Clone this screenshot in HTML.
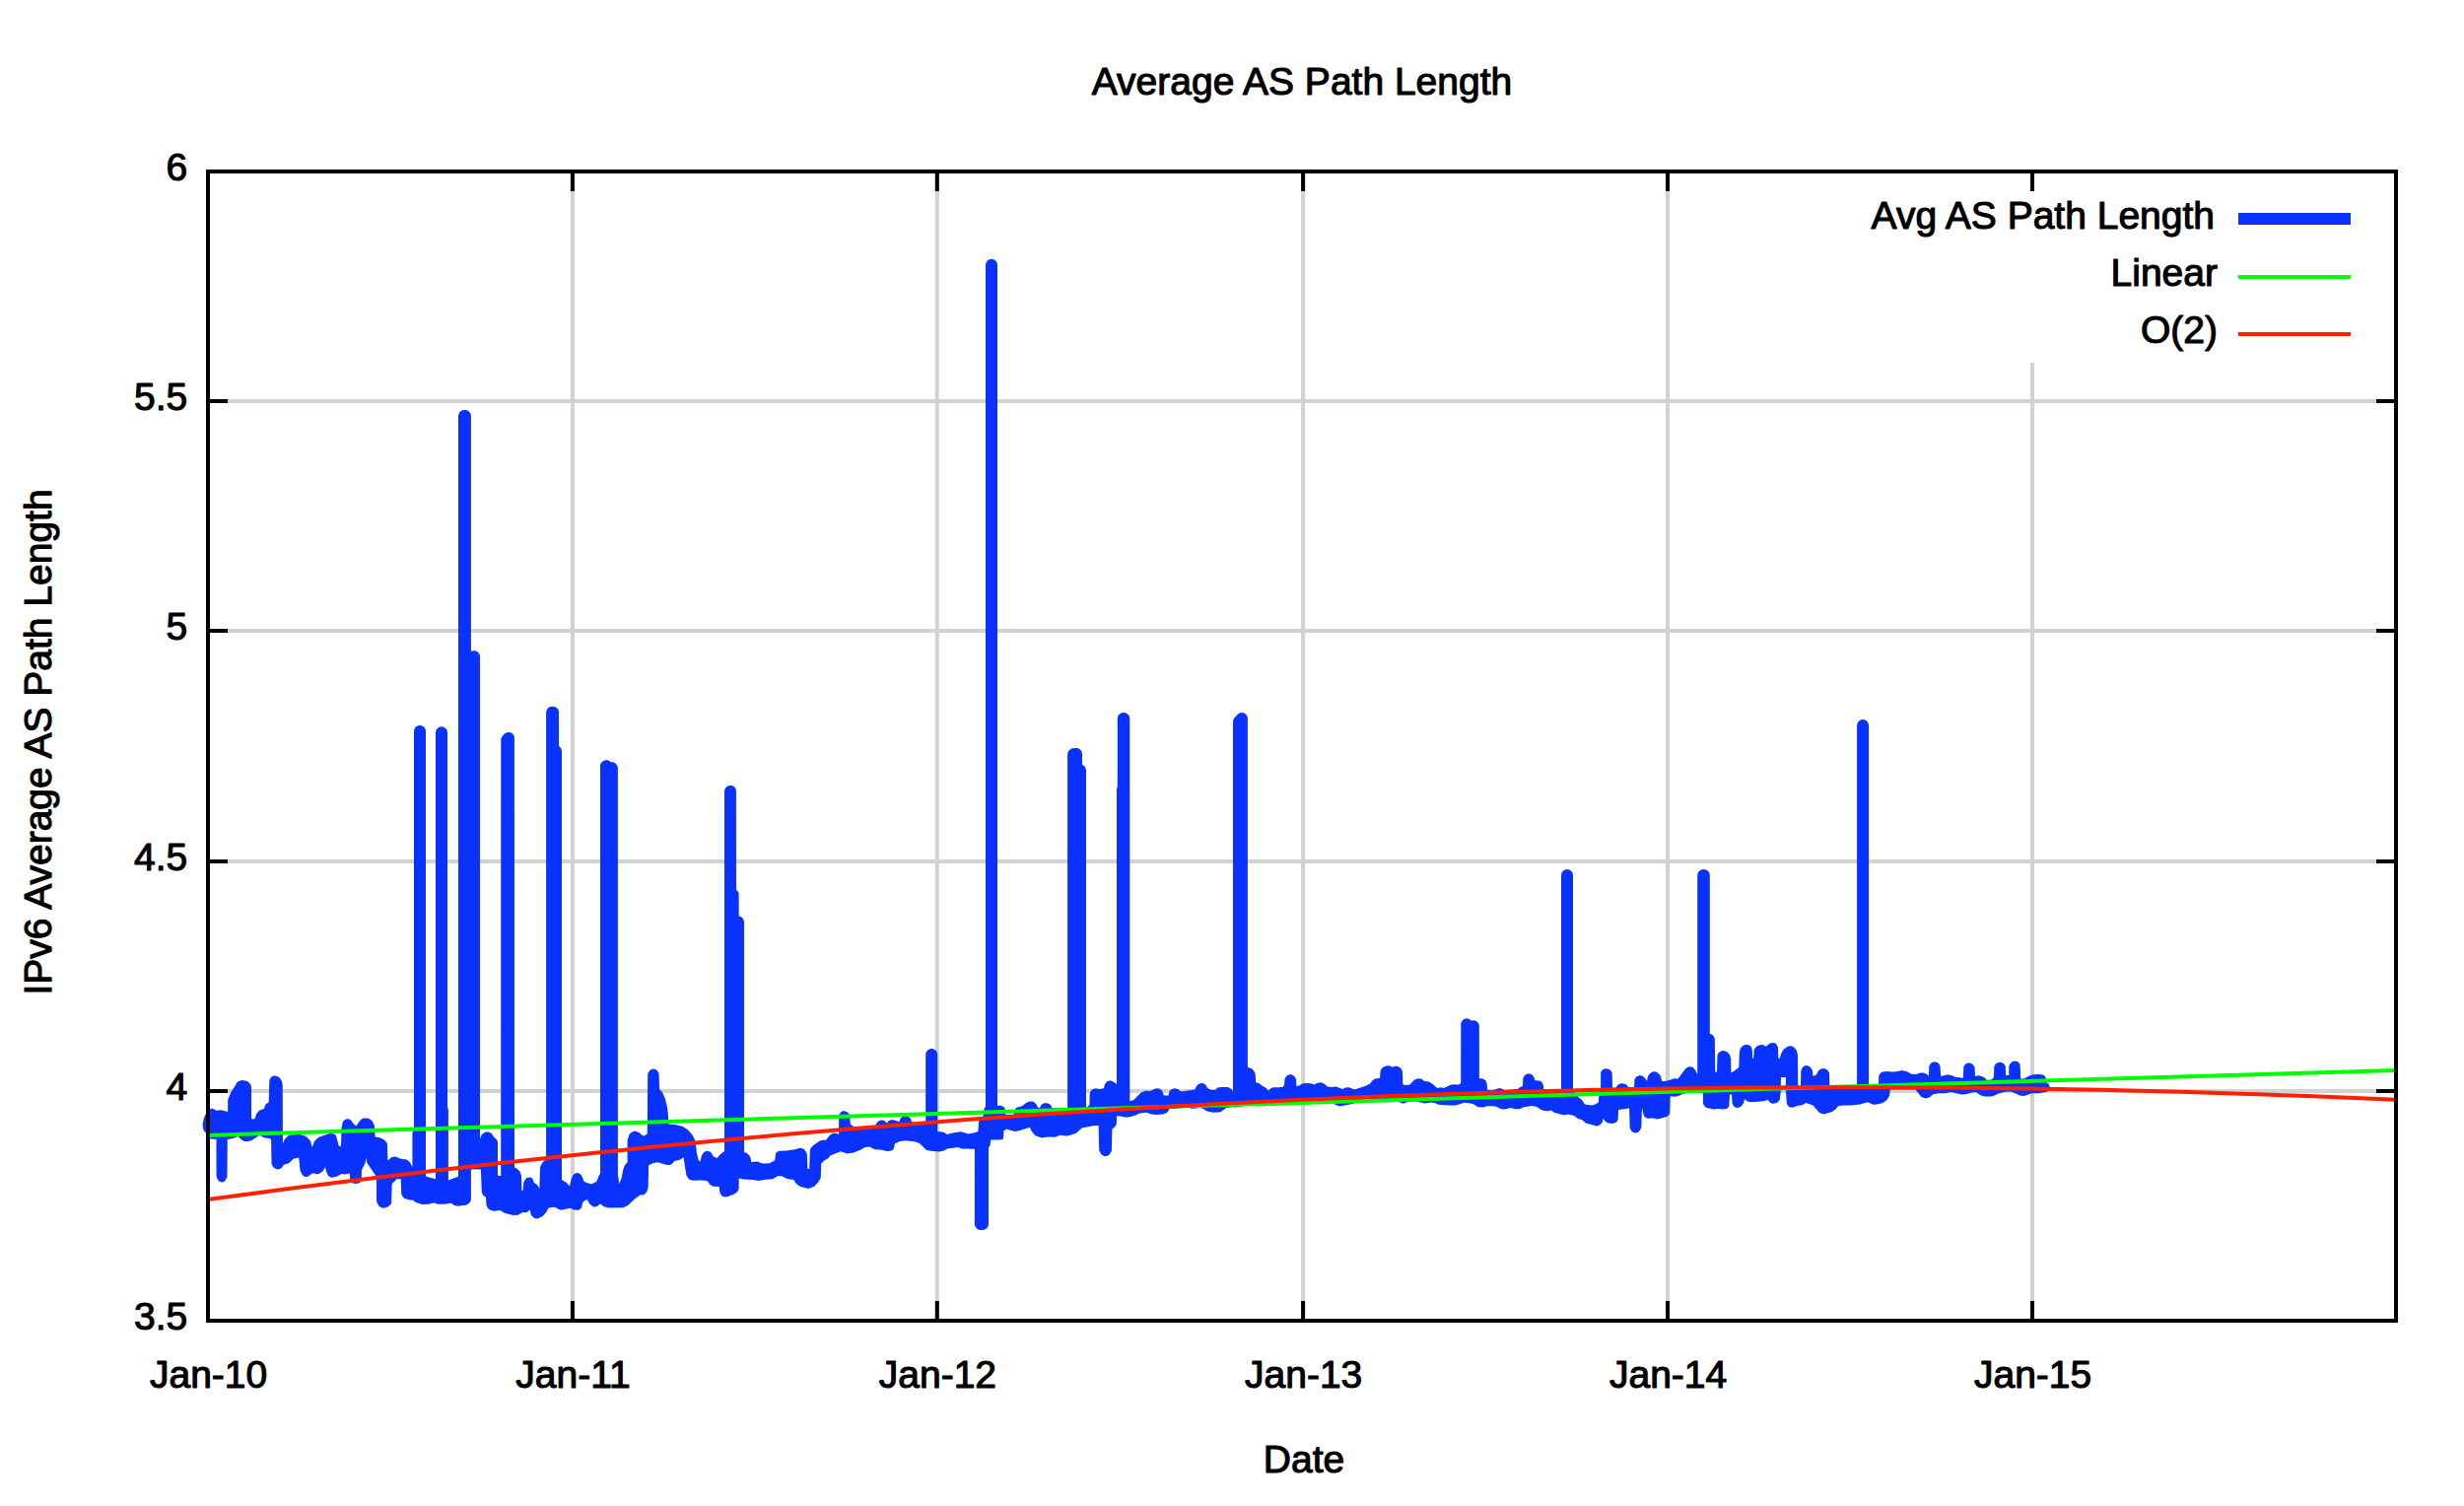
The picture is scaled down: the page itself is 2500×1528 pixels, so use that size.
<!DOCTYPE html><html><head><meta charset="utf-8"><title>Average AS Path Length</title>
<style>html,body{margin:0;padding:0;background:#fff}svg{display:block}text{font-family:"Liberation Sans",sans-serif;font-size:39px;fill:#000;stroke:#000;stroke-width:1.1px;stroke-linejoin:round}</style></head><body>
<svg width="2500" height="1528" viewBox="0 0 2500 1528">
<rect width="2500" height="1528" fill="#fff"/>
<path d="M580.9 174V1340M950.8 174V1340M1322.1 174V1340M1692.0 174V1340M2062.0 368V1340M211 1107.0H2431M211 874.0H2431M211 640.0H2431M211 407.0H2431" stroke="#d2d2d2" stroke-width="4" fill="none"/>
<path d="M477.4 1218.8L477.9 1216.5L477.9 1186.5L487.9 1186.5L488.8 1209.7L490.4 1213.0L493.0 1214.7L493.5 1222.3L494.0 1224.0L495.6 1226.6L497.8 1227.9L501.5 1228.7L507.6 1228.1L511.9 1230.8L520.5 1233.0L525.6 1232.7L530.3 1229.9L534.0 1230.2L535.4 1229.6L537.6 1227.5L538.8 1232.6L539.6 1233.8L542.3 1236.0L545.1 1236.5L546.7 1236.1L550.9 1233.7L554.1 1230.1L556.7 1225.6L561.5 1224.8L564.0 1225.3L566.3 1226.8L569.6 1227.7L578.5 1225.7L582.2 1227.4L585.6 1227.7L587.7 1227.4L589.4 1226.1L590.2 1224.8L591.4 1219.6L595.6 1217.1L598.1 1221.3L601.2 1223.9L602.5 1224.4L605.3 1224.2L609.1 1221.4L612.7 1224.2L617.6 1225.6L632.3 1225.3L637.1 1223.1L643.4 1217.0L649.8 1212.3L652.1 1212.4L653.5 1211.9L656.3 1209.3L657.7 1204.8L658.1 1182.2L662.5 1180.3L667.2 1179.2L676.8 1182.1L678.9 1182.2L681.8 1180.9L684.3 1177.9L690.4 1176.6L693.5 1174.3L696.4 1192.4L698.6 1196.1L699.9 1197.0L703.4 1197.7L710.1 1197.5L717.3 1198.1L720.6 1201.9L723.1 1203.7L729.5 1204.0L730.5 1210.6L732.7 1213.4L734.1 1214.2L738.4 1214.3L741.0 1212.8L743.3 1212.4L747.9 1209.5L749.6 1206.4L749.7 1195.5L754.4 1196.6L763.6 1196.9L769.9 1198.0L777.1 1196.7L784.1 1196.2L788.8 1193.2L793.1 1193.2L799.2 1196.2L805.3 1196.9L808.1 1201.3L812.1 1203.9L820.3 1205.9L826.3 1203.8L830.6 1199.0L832.8 1194.7L833.2 1180.4L836.5 1177.3L839.7 1175.8L842.8 1172.3L853.0 1168.2L859.5 1170.5L866.0 1169.4L873.4 1166.5L877.6 1163.9L882.3 1163.6L887.5 1166.3L893.5 1166.4L900.0 1168.1L903.8 1167.7L905.7 1166.8L906.7 1165.7L908.1 1160.2L913.3 1157.9L918.7 1157.2L928.0 1158.3L932.9 1160.1L940.2 1166.9L944.0 1167.8L953.2 1168.4L957.5 1167.5L961.2 1165.4L972.0 1164.1L975.5 1165.4L988.9 1165.7L988.9 1242.1L989.4 1244.4L991.6 1247.1L993.7 1248.0L997.0 1248.1L999.3 1247.6L1001.2 1246.3L1002.5 1244.4L1003.0 1242.1L1003.0 1164.4L1004.6 1162.3L1005.2 1156.6L1014.2 1156.5L1017.6 1156.0L1018.2 1152.7L1018.4 1147.4L1021.1 1145.6L1029.6 1147.9L1034.8 1146.9L1044.9 1143.7L1046.8 1148.0L1050.5 1152.2L1056.9 1154.6L1063.6 1153.5L1070.0 1153.8L1076.1 1151.7L1081.4 1152.5L1083.0 1152.4L1087.4 1151.3L1092.4 1149.4L1094.2 1147.5L1096.2 1146.1L1097.4 1144.5L1110.3 1141.9L1114.6 1142.1L1115.2 1167.2L1117.5 1171.4L1120.2 1172.9L1121.9 1173.2L1123.6 1172.8L1125.7 1171.5L1127.9 1167.7L1128.4 1145.6L1131.0 1143.6L1132.7 1140.9L1133.3 1132.1L1142.8 1133.8L1147.4 1133.1L1153.0 1131.2L1156.2 1129.4L1163.4 1128.8L1168.0 1130.6L1173.5 1131.0L1179.8 1130.6L1184.0 1128.9L1186.8 1125.1L1195.5 1124.5L1203.7 1123.3L1210.0 1125.0L1217.5 1123.9L1221.0 1124.9L1224.7 1127.5L1231.2 1128.7L1236.8 1128.6L1238.4 1128.2L1244.2 1123.9L1250.1 1123.3L1254.0 1123.6L1258.2 1122.8L1262.5 1121.4L1280.9 1120.5L1281.5 1121.1L1281.9 1122.2L1283.1 1122.4L1283.7 1121.7L1284.7 1121.7L1295.0 1121.3L1298.2 1119.6L1351.5 1117.8L1354.0 1120.6L1359.1 1122.6L1373.5 1119.7L1374.8 1118.9L1376.2 1117.2L1399.8 1116.3L1400.5 1116.9L1400.5 1117.8L1402.8 1118.2L1419.5 1117.9L1422.5 1119.5L1424.7 1119.6L1428.2 1118.0L1435.5 1117.3L1445.7 1119.6L1451.6 1118.6L1456.3 1119.2L1459.2 1120.7L1471.2 1121.6L1477.1 1121.5L1485.8 1118.8L1490.7 1119.2L1495.2 1120.3L1498.2 1122.4L1500.3 1123.3L1505.2 1123.4L1508.9 1122.2L1513.9 1122.2L1518.6 1122.8L1521.1 1124.6L1524.8 1125.6L1528.0 1125.3L1532.1 1124.1L1537.5 1125.3L1541.8 1125.2L1545.5 1123.4L1554.1 1122.0L1558.8 1122.8L1562.9 1125.4L1566.3 1127.0L1571.2 1127.3L1573.6 1126.5L1577.3 1128.9L1585.0 1131.1L1586.8 1131.3L1591.0 1130.8L1595.6 1131.4L1598.1 1132.6L1600.9 1135.1L1605.4 1136.3L1608.8 1139.4L1619.9 1142.5L1621.3 1142.3L1623.1 1141.5L1625.1 1139.6L1625.9 1138.3L1626.4 1135.1L1628.8 1137.7L1631.5 1139.5L1636.0 1139.9L1639.3 1138.9L1640.6 1137.9L1641.7 1135.6L1642.1 1125.9L1651.3 1124.7L1653.1 1123.9L1653.6 1144.3L1655.4 1147.8L1656.8 1148.8L1659.3 1149.5L1660.9 1149.2L1663.1 1147.9L1665.3 1144.2L1666.0 1124.0L1667.8 1131.8L1669.0 1133.6L1670.3 1134.3L1672.1 1134.8L1676.8 1134.6L1681.9 1135.4L1690.4 1133.3L1692.5 1132.1L1693.8 1130.5L1694.3 1129.2L1694.7 1112.3L1699.7 1112.7L1703.4 1111.8L1707.3 1109.9L1710.2 1109.2L1727.9 1108.2L1728.0 1119.7L1729.7 1122.8L1731.6 1124.1L1734.4 1124.5L1738.1 1125.6L1743.2 1125.1L1748.4 1125.6L1752.4 1124.7L1754.3 1122.5L1755.0 1110.4L1757.0 1110.4L1757.6 1119.2L1758.6 1121.8L1760.4 1123.4L1763.5 1123.9L1766.4 1122.7L1767.5 1121.6L1769.2 1119.0L1769.9 1115.3L1773.6 1117.7L1777.9 1118.3L1789.1 1117.2L1793.7 1116.0L1795.9 1118.6L1797.3 1119.4L1799.6 1119.8L1802.5 1119.0L1804.9 1117.0L1805.9 1115.2L1807.0 1105.0L1811.8 1105.0L1812.9 1119.8L1814.1 1121.9L1815.3 1123.0L1816.7 1123.5L1819.1 1123.7L1823.4 1122.1L1828.5 1121.3L1832.4 1119.0L1839.5 1121.4L1845.7 1128.7L1848.7 1130.1L1850.4 1130.4L1859.0 1128.1L1862.4 1125.4L1865.4 1122.0L1871.2 1121.4L1877.8 1121.6L1887.5 1120.5L1893.6 1118.4L1895.7 1118.4L1900.5 1120.7L1904.0 1120.4L1909.8 1119.2L1914.0 1116.5L1915.2 1115.1L1917.1 1111.6L1917.8 1105.6L1943.5 1105.6L1949.4 1113.1L1953.5 1114.5L1957.5 1113.4L1961.4 1110.2L1967.1 1109.2L1974.0 1109.3L1979.5 1108.0L1990.0 1110.4L1994.9 1110.2L2000.6 1108.6L2005.2 1108.2L2008.9 1111.0L2013.2 1112.4L2020.3 1112.6L2021.8 1112.3L2028.6 1109.2L2034.4 1107.8L2040.4 1107.4L2044.2 1108.9L2049.2 1111.6L2053.7 1112.1L2061.4 1109.2L2068.4 1109.2L2076.8 1107.7L2078.0 1106.9L2079.0 1105.5L2079.6 1102.3L2078.7 1099.9L2076.1 1098.2L2075.5 1093.0L2074.1 1091.3L2072.8 1090.6L2068.3 1089.9L2062.6 1090.3L2058.0 1092.0L2053.5 1094.5L2050.2 1094.5L2049.6 1080.2L2048.3 1078.1L2047.2 1077.3L2043.9 1076.5L2041.1 1077.4L2038.8 1080.2L2038.4 1081.7L2038.2 1090.9L2035.2 1090.9L2034.7 1081.6L2032.9 1079.0L2030.3 1077.9L2028.6 1077.7L2025.2 1079.1L2023.3 1082.1L2022.9 1093.3L2020.5 1095.5L2015.6 1095.7L2013.6 1093.5L2010.8 1092.0L2008.7 1091.4L2007.3 1091.3L2004.0 1092.1L2003.5 1082.6L2001.1 1079.4L1997.9 1078.3L1994.7 1079.2L1992.4 1082.0L1991.7 1093.9L1988.9 1093.3L1984.4 1093.1L1980.0 1091.1L1976.9 1090.4L1974.9 1090.6L1969.2 1092.1L1968.5 1081.4L1966.3 1078.3L1963.0 1077.2L1959.7 1078.3L1957.6 1080.8L1957.3 1082.4L1956.9 1091.5L1954.6 1089.7L1951.8 1088.4L1948.1 1088.6L1944.1 1089.9L1939.4 1089.7L1934.3 1087.0L1929.4 1086.1L1924.4 1087.2L1919.5 1087.6L1914.1 1087.0L1910.1 1087.6L1908.2 1088.5L1906.3 1091.4L1906.0 1100.6L1900.0 1103.1L1896.1 1103.1L1896.1 736.0L1895.6 733.7L1894.3 731.8L1892.4 730.5L1890.1 730.0L1887.8 730.5L1885.9 731.8L1884.6 733.7L1884.1 736.0L1884.1 1103.1L1856.4 1103.1L1856.0 1088.8L1854.3 1085.8L1850.9 1084.0L1847.3 1084.5L1844.5 1087.0L1843.2 1090.3L1839.5 1092.1L1839.0 1086.5L1838.2 1084.5L1836.0 1082.0L1832.8 1081.1L1830.5 1081.8L1829.3 1082.5L1827.7 1085.2L1827.3 1086.9L1827.0 1103.1L1824.3 1103.1L1824.0 1070.5L1822.9 1065.9L1820.5 1062.8L1818.2 1061.6L1816.2 1061.2L1813.3 1061.9L1809.2 1065.3L1807.0 1069.4L1805.9 1073.8L1804.3 1073.8L1804.0 1062.8L1802.5 1059.5L1801.0 1058.4L1799.7 1058.0L1795.8 1058.4L1793.1 1060.4L1791.9 1062.1L1789.9 1060.6L1786.6 1060.1L1784.9 1060.4L1781.9 1061.9L1779.7 1065.1L1779.2 1073.8L1778.2 1073.8L1777.8 1064.9L1776.7 1062.0L1774.7 1060.4L1773.0 1059.9L1769.6 1060.3L1768.4 1061.0L1766.1 1063.2L1764.9 1067.1L1764.3 1082.9L1759.0 1087.1L1756.4 1088.4L1756.2 1074.3L1755.1 1070.2L1752.7 1067.5L1749.8 1066.3L1748.0 1066.1L1745.2 1067.0L1743.2 1069.0L1742.5 1070.6L1742.0 1087.8L1740.3 1087.8L1739.8 1053.5L1738.1 1050.5L1736.2 1049.2L1734.8 1048.8L1734.8 887.9L1734.3 885.6L1733.0 883.7L1731.1 882.4L1728.2 881.9L1725.9 882.4L1724.0 883.7L1722.7 885.6L1722.2 887.9L1722.2 1088.4L1721.7 1089.5L1720.3 1086.0L1718.2 1083.4L1716.6 1082.6L1713.9 1082.3L1710.4 1083.9L1702.6 1094.5L1698.6 1094.2L1695.2 1095.6L1690.6 1096.7L1686.2 1097.0L1685.2 1092.5L1684.2 1090.7L1681.5 1088.1L1678.9 1087.3L1677.5 1087.3L1674.9 1088.4L1672.7 1090.8L1671.9 1092.4L1670.9 1096.9L1668.6 1093.2L1666.5 1091.7L1663.7 1091.1L1660.3 1092.4L1658.5 1095.0L1658.0 1103.1L1652.3 1103.1L1649.9 1100.2L1646.3 1099.3L1643.7 1099.6L1642.4 1100.2L1641.0 1101.2L1639.4 1103.9L1636.0 1103.6L1635.7 1089.4L1635.3 1087.7L1633.7 1085.6L1632.5 1084.9L1630.2 1084.2L1627.4 1084.6L1625.4 1085.9L1624.2 1088.1L1624.1 1103.6L1622.3 1110.5L1621.9 1118.5L1618.6 1120.4L1615.2 1121.6L1607.9 1120.4L1605.3 1116.2L1601.7 1113.6L1596.0 1106.8L1596.0 887.9L1595.5 885.6L1594.2 883.7L1592.3 882.4L1590.0 881.9L1587.7 882.4L1585.8 883.7L1584.5 885.6L1584.0 887.9L1584.0 1105.1L1566.1 1105.1L1566.0 1101.4L1564.7 1098.2L1562.2 1096.6L1557.4 1096.3L1556.7 1093.5L1554.9 1090.8L1553.6 1090.0L1551.0 1089.3L1548.5 1090.0L1546.7 1091.4L1545.3 1093.9L1544.9 1102.0L1541.8 1103.2L1540.0 1105.1L1526.6 1106.0L1524.2 1104.7L1521.3 1104.1L1513.8 1106.3L1509.1 1105.7L1508.7 1099.7L1507.3 1096.3L1504.1 1094.2L1500.9 1094.2L1500.8 1040.0L1499.9 1037.9L1498.2 1036.2L1496.1 1035.3L1492.9 1035.6L1490.5 1033.7L1488.2 1033.2L1485.9 1033.7L1484.0 1035.0L1482.3 1038.0L1482.2 1099.0L1479.5 1100.8L1477.1 1100.3L1472.2 1100.5L1464.9 1103.9L1462.4 1103.3L1458.2 1103.9L1453.7 1100.1L1449.9 1097.5L1445.3 1097.1L1442.4 1094.7L1439.2 1094.2L1435.3 1095.4L1430.0 1100.8L1426.2 1101.1L1423.3 1100.2L1423.0 1087.8L1422.5 1085.9L1421.0 1083.5L1417.8 1081.7L1415.1 1081.7L1412.6 1082.8L1410.7 1081.6L1407.2 1081.2L1402.9 1083.0L1400.7 1085.9L1400.0 1093.9L1396.4 1094.2L1393.8 1095.3L1392.5 1096.2L1390.1 1099.5L1385.8 1101.7L1374.3 1105.5L1368.5 1103.2L1365.2 1103.4L1362.1 1104.9L1355.8 1102.4L1350.5 1103.1L1347.0 1102.5L1343.1 1099.3L1339.9 1098.2L1335.9 1098.9L1333.4 1100.6L1330.9 1099.5L1326.6 1098.9L1322.2 1099.3L1320.9 1099.7L1318.7 1101.2L1315.3 1101.9L1315.1 1095.6L1314.5 1093.7L1312.8 1091.4L1310.9 1090.5L1309.1 1090.1L1306.1 1091.1L1304.1 1093.6L1303.4 1095.6L1303.1 1100.7L1301.6 1102.8L1298.1 1103.3L1291.8 1103.3L1289.3 1104.3L1287.0 1106.7L1284.5 1103.8L1280.7 1101.7L1277.4 1099.1L1274.2 1098.2L1273.7 1089.7L1272.4 1086.7L1269.8 1084.0L1266.2 1082.9L1265.9 1083.4L1265.9 728.9L1265.4 726.6L1264.1 724.7L1262.2 723.4L1259.9 722.9L1257.6 723.4L1255.7 724.7L1254.3 726.6L1252.0 728.7L1251.0 732.0L1251.0 1107.6L1250.2 1105.9L1249.2 1104.9L1246.9 1103.4L1245.5 1103.1L1240.3 1102.9L1236.4 1103.3L1234.8 1103.8L1233.8 1105.5L1229.5 1106.1L1225.3 1104.3L1223.5 1101.1L1222.4 1100.1L1220.3 1099.1L1218.9 1099.1L1216.5 1099.7L1214.0 1101.7L1212.2 1105.6L1198.4 1107.4L1195.9 1105.4L1193.3 1104.4L1191.9 1104.2L1189.0 1104.9L1186.6 1107.1L1185.5 1111.6L1180.9 1111.6L1179.5 1107.3L1178.0 1105.6L1176.2 1104.6L1173.0 1104.3L1170.0 1105.4L1167.2 1107.0L1162.3 1106.8L1157.5 1108.7L1150.0 1116.2L1146.3 1117.3L1146.3 728.9L1145.8 726.6L1144.5 724.7L1142.6 723.4L1139.8 722.9L1137.5 723.4L1135.6 724.7L1134.3 726.6L1133.8 728.9L1133.8 797.8L1133.0 800.7L1133.0 1099.5L1132.3 1099.7L1130.4 1097.9L1127.5 1096.5L1125.2 1096.6L1122.9 1097.6L1121.3 1099.5L1120.7 1100.7L1120.1 1104.0L1116.4 1105.0L1111.5 1104.3L1108.0 1105.5L1107.0 1106.6L1105.7 1109.3L1105.4 1121.1L1103.6 1122.9L1102.0 1123.5L1102.0 781.6L1101.0 778.3L1099.3 776.6L1098.0 776.0L1098.0 764.9L1097.0 761.6L1095.3 759.9L1093.2 759.0L1087.9 759.3L1084.9 761.0L1083.6 762.9L1083.1 765.2L1083.1 1124.8L1067.3 1124.1L1066.6 1122.1L1065.7 1121.0L1064.4 1119.9L1062.3 1119.3L1059.4 1119.3L1057.4 1120.2L1056.2 1121.3L1055.1 1124.1L1052.9 1123.5L1051.6 1120.5L1048.9 1118.1L1047.2 1117.6L1044.7 1117.5L1041.1 1119.1L1037.0 1122.3L1032.1 1123.4L1030.9 1124.1L1029.5 1126.4L1028.4 1130.9L1020.5 1130.9L1020.0 1126.2L1019.4 1124.4L1018.5 1123.2L1015.8 1121.8L1012.0 1121.7L1012.0 268.8L1011.5 266.5L1010.2 264.6L1008.3 263.3L1006.0 262.8L1003.7 263.3L1001.8 264.6L1000.5 266.5L1000.0 268.8L1000.0 1123.0L999.0 1123.8L998.5 1125.1L997.8 1132.1L994.9 1134.6L993.1 1138.2L992.4 1148.0L989.1 1149.2L982.2 1150.4L978.0 1148.9L974.6 1148.3L967.7 1149.2L960.6 1151.0L959.0 1149.5L957.7 1148.9L954.7 1148.2L951.2 1148.0L951.2 1069.9L950.7 1067.6L949.4 1065.7L946.4 1064.0L944.0 1064.0L941.0 1065.7L939.7 1067.6L939.2 1069.9L939.2 1138.6L937.5 1138.4L929.4 1139.4L925.0 1138.3L924.0 1135.1L922.9 1133.7L920.8 1132.4L917.8 1132.3L916.3 1132.6L914.0 1134.3L912.3 1138.2L909.0 1136.9L905.0 1136.1L901.5 1137.3L900.0 1139.4L897.5 1137.3L895.3 1136.5L893.7 1136.5L890.7 1138.0L888.2 1141.4L881.3 1145.4L872.5 1146.1L866.5 1143.2L862.8 1140.6L862.2 1132.5L861.6 1130.7L860.5 1128.9L859.0 1127.9L857.1 1127.2L855.3 1127.3L853.4 1128.2L852.0 1129.8L851.2 1131.4L851.1 1151.0L848.9 1149.9L845.8 1149.8L844.1 1150.2L841.0 1152.7L838.3 1156.5L833.2 1157.1L831.4 1157.7L824.3 1162.8L822.3 1165.4L821.8 1167.4L821.2 1185.9L819.4 1185.9L818.8 1171.2L818.4 1169.7L815.9 1166.1L812.5 1164.7L810.8 1164.9L806.3 1166.3L798.1 1167.5L790.3 1167.8L787.9 1169.3L787.0 1170.6L786.3 1177.3L780.9 1180.3L773.5 1180.4L768.6 1178.6L762.3 1179.1L761.5 1174.7L760.6 1172.8L757.9 1169.9L755.0 1168.9L755.0 935.4L754.5 933.1L753.2 931.2L751.3 929.9L749.7 929.5L749.6 906.5L748.7 904.4L747.0 902.7L746.9 801.6L746.0 799.5L744.3 797.8L742.2 796.9L739.8 796.9L736.8 798.6L735.5 800.5L735.0 802.8L735.0 1167.9L731.0 1171.0L727.7 1174.9L724.0 1173.6L721.7 1169.7L720.6 1168.8L718.3 1167.8L716.1 1168.0L714.1 1169.2L711.9 1172.5L710.6 1178.5L708.8 1177.3L706.9 1169.8L705.6 1157.8L702.3 1151.3L698.1 1146.6L692.9 1143.1L685.9 1141.3L678.2 1140.6L677.9 1131.1L676.8 1122.6L674.6 1114.1L672.0 1108.3L669.1 1105.2L668.5 1089.0L667.3 1086.9L666.1 1085.6L663.7 1084.6L661.4 1084.8L659.1 1086.2L657.4 1089.0L657.2 1090.4L656.8 1150.4L652.6 1152.8L648.4 1148.9L644.2 1147.6L641.8 1148.2L638.9 1150.3L636.6 1156.8L636.6 1179.2L633.8 1182.5L632.2 1186.9L630.5 1196.0L628.0 1201.2L627.5 1194.8L626.9 1193.2L626.9 779.2L626.4 776.9L624.2 774.2L622.1 773.3L619.6 773.3L618.3 772.1L616.2 771.2L613.8 771.2L610.8 772.9L609.5 774.8L609.0 777.1L609.0 1191.1L607.7 1192.8L605.4 1198.7L600.5 1201.2L596.6 1200.5L592.6 1198.7L589.9 1192.2L587.6 1190.6L586.2 1190.1L584.7 1190.2L583.1 1190.8L581.3 1192.3L579.7 1196.5L577.9 1203.6L574.8 1200.0L570.6 1197.5L570.0 1196.6L570.0 762.1L569.0 758.8L567.1 757.0L567.0 721.6L566.1 719.5L564.4 717.8L562.3 716.9L560.1 716.8L557.8 717.3L555.9 718.6L554.6 720.5L554.1 722.8L554.1 1175.2L554.0 1176.5L550.5 1179.3L548.1 1184.1L547.3 1206.0L545.2 1202.3L541.9 1200.0L540.4 1195.9L538.8 1194.8L536.6 1194.4L533.8 1195.6L531.5 1199.2L531.1 1200.9L530.7 1207.9L529.4 1207.9L529.0 1193.3L528.1 1189.9L527.1 1188.3L525.1 1186.3L523.2 1185.1L522.0 1184.8L521.9 747.6L521.0 745.5L519.3 743.8L517.2 742.9L514.8 742.9L511.8 744.6L509.2 747.7L508.3 749.8L508.2 1192.9L507.6 1193.2L505.0 1192.6L505.0 1159.0L504.3 1156.5L500.9 1153.5L498.6 1149.7L495.0 1148.2L492.1 1148.7L489.6 1150.4L488.6 1151.5L487.0 1155.6L487.0 666.0L486.5 663.7L484.3 661.0L481.0 660.0L477.9 660.9L477.9 421.9L477.4 419.6L475.2 416.9L473.1 416.0L469.8 416.0L467.7 416.9L466.0 418.6L465.0 421.9L465.0 1193.7L454.9 1197.5L454.9 1126.0L454.0 1122.9L454.0 743.1L453.5 740.8L452.2 738.9L449.2 737.2L446.8 737.2L443.8 738.9L442.5 740.8L442.0 743.1L442.0 1196.3L433.3 1193.9L432.0 1193.1L432.0 741.8L431.5 739.5L430.2 737.6L427.2 735.9L424.8 735.9L421.8 737.6L420.5 739.5L420.0 741.8L420.0 1145.9L418.9 1147.7L418.4 1150.0L418.4 1184.0L415.9 1179.3L412.9 1176.7L411.6 1176.2L407.4 1176.1L401.1 1173.4L397.5 1174.0L394.6 1176.8L393.4 1177.3L393.0 1161.5L392.7 1160.0L390.9 1157.4L389.5 1156.2L385.4 1154.2L380.6 1153.5L379.8 1141.4L377.4 1137.1L374.3 1135.0L372.7 1134.4L369.2 1134.5L367.2 1135.2L364.4 1137.9L361.6 1142.5L359.2 1140.7L356.1 1136.5L354.4 1135.5L352.9 1135.2L351.0 1135.6L348.8 1136.9L347.6 1139.1L346.5 1144.7L346.0 1162.2L344.0 1163.4L341.3 1153.2L340.1 1151.1L338.6 1150.5L335.4 1150.1L333.6 1150.3L324.2 1153.4L322.8 1154.2L319.1 1157.7L316.7 1164.0L315.2 1158.3L314.1 1156.6L310.2 1152.8L304.4 1151.1L294.5 1151.4L293.0 1151.7L288.7 1156.1L287.0 1160.3L286.7 1100.8L286.1 1097.5L283.9 1093.8L282.3 1092.4L279.8 1091.6L277.5 1091.6L275.3 1092.8L274.3 1093.9L273.3 1096.8L272.7 1118.2L269.3 1120.8L267.8 1124.9L263.3 1126.5L260.5 1129.7L259.7 1131.3L258.6 1135.3L255.0 1135.3L255.0 1103.1L254.7 1101.6L253.4 1099.1L250.4 1096.8L245.2 1096.1L241.8 1097.2L240.6 1098.2L234.1 1108.8L231.2 1115.8L231.1 1128.0L224.4 1126.2L219.6 1126.7L215.6 1124.8L214.2 1124.8L212.6 1125.5L209.5 1128.8L206.9 1134.3L205.5 1141.4L206.4 1146.6L209.3 1150.1L211.6 1154.3L213.6 1155.5L219.5 1156.1L219.6 1194.0L221.6 1198.0L224.2 1199.4L226.6 1199.2L228.5 1198.0L230.5 1194.0L230.8 1156.1L236.4 1154.9L241.5 1153.1L245.1 1156.4L248.2 1158.1L250.4 1158.2L255.0 1157.3L263.5 1151.8L268.5 1154.5L273.3 1154.9L275.1 1156.1L275.5 1180.5L275.9 1182.1L278.0 1185.0L281.4 1186.4L284.2 1185.9L285.7 1185.0L288.0 1181.8L293.1 1180.2L297.8 1175.7L303.2 1174.4L304.6 1187.8L306.8 1192.3L309.5 1194.0L311.0 1194.1L312.4 1193.7L317.3 1190.3L321.5 1191.3L323.5 1190.9L327.2 1188.7L330.1 1184.2L331.3 1189.6L333.1 1192.9L334.5 1193.9L336.5 1194.7L338.2 1194.6L342.2 1193.5L346.6 1190.9L350.0 1191.5L354.9 1190.5L355.3 1197.6L356.5 1199.6L357.9 1200.4L360.4 1200.9L364.2 1200.4L366.1 1199.0L366.8 1197.5L366.9 1187.2L370.7 1179.8L371.5 1174.5L372.3 1179.8L380.5 1191.7L382.0 1194.5L382.1 1219.2L384.5 1223.7L385.6 1224.6L387.9 1225.5L389.5 1225.7L393.6 1224.5L396.4 1221.9L397.1 1220.7L397.7 1201.2L402.7 1196.3L406.8 1196.3L407.2 1210.9L407.5 1212.5L409.1 1214.8L410.4 1215.9L415.4 1217.5L419.3 1217.7L421.1 1219.6L424.8 1221.1L428.2 1221.9L435.0 1221.8L440.4 1220.2L444.1 1221.7L451.1 1221.7L457.5 1220.8L461.2 1223.1L464.9 1223.8L473.3 1222.5L476.1 1220.8ZM1807.0 1093.1L1812.0 1093.1L1811.8 1101.8L1807.0 1101.8L1806.8 1101.1Z" fill="#0a32ff" fill-rule="evenodd"/>
<path d="M211 1151.9L2431 1085.9" stroke="#00ff00" stroke-width="4" fill="none"/>
<path d="M211.0 1217.1L241.0 1213.1L271.0 1209.1L301.0 1205.1L331.0 1201.3L361.0 1197.5L391.0 1193.8L421.0 1190.2L451.0 1186.6L481.0 1183.2L511.0 1179.7L541.0 1176.4L571.0 1173.2L601.0 1170.0L631.0 1166.9L661.0 1163.8L691.0 1160.9L721.0 1158.0L751.0 1155.2L781.0 1152.4L811.0 1149.8L841.0 1147.2L871.0 1144.7L901.0 1142.2L931.0 1139.9L961.0 1137.6L991.0 1135.3L1021.0 1133.2L1051.0 1131.1L1081.0 1129.1L1111.0 1127.2L1141.0 1125.3L1171.0 1123.6L1201.0 1121.9L1231.0 1120.2L1261.0 1118.7L1291.0 1117.2L1321.0 1115.8L1351.0 1114.5L1381.0 1113.2L1411.0 1112.0L1441.0 1110.9L1471.0 1109.9L1501.0 1108.9L1531.0 1108.0L1561.0 1107.2L1591.0 1106.5L1621.0 1105.8L1651.0 1105.2L1681.0 1104.7L1711.0 1104.3L1741.0 1103.9L1771.0 1103.6L1801.0 1103.4L1831.0 1103.2L1861.0 1103.2L1891.0 1103.2L1921.0 1103.2L1951.0 1103.4L1981.0 1103.6L2011.0 1103.9L2041.0 1104.3L2071.0 1104.7L2101.0 1105.2L2131.0 1105.8L2161.0 1106.5L2191.0 1107.2L2221.0 1108.0L2251.0 1108.9L2281.0 1109.9L2311.0 1110.9L2341.0 1112.0L2371.0 1113.2L2401.0 1114.5L2431.0 1115.8" stroke="#ff2000" stroke-width="4" fill="none"/>
<path d="M580.9 174v20M580.9 1340v-20M950.8 174v20M950.8 1340v-20M1322.1 174v20M1322.1 1340v-20M1692.0 174v20M1692.0 1340v-20M2062.0 174v20M2062.0 1340v-20M211 1107.0h20M2431 1107.0h-20M211 874.0h20M2431 874.0h-20M211 640.0h20M2431 640.0h-20M211 407.0h20M2431 407.0h-20" stroke="#000" stroke-width="4" fill="none"/>
<rect x="211" y="174" width="2220" height="1166" fill="none" stroke="#000" stroke-width="4"/>
<path d="M2271 222H2385" stroke="#0a32ff" stroke-width="12"/>
<path d="M2271 281H2385" stroke="#00ff00" stroke-width="4"/>
<path d="M2271 339H2385" stroke="#ff2000" stroke-width="4"/>
<text x="2247" y="232.2" text-anchor="end">Avg AS Path Length</text>
<text x="2250" y="290.1" text-anchor="end">Linear</text>
<text x="2250" y="348.1" text-anchor="end">O(2)</text>
<text x="1321" y="95.8" text-anchor="middle">Average AS Path Length</text>
<text x="1323" y="1494.4" text-anchor="middle">Date</text>
<text transform="translate(52 753) rotate(-90)" text-anchor="middle">IPv6 Average AS Path Length</text>
<text x="211.6" y="1407.7" text-anchor="middle">Jan-10</text>
<text x="581.5" y="1407.7" text-anchor="middle">Jan-11</text>
<text x="951.4" y="1407.7" text-anchor="middle">Jan-12</text>
<text x="1322.7" y="1407.7" text-anchor="middle">Jan-13</text>
<text x="1692.6" y="1407.7" text-anchor="middle">Jan-14</text>
<text x="2062.6" y="1407.7" text-anchor="middle">Jan-15</text>
<text x="190.3" y="1349.3" text-anchor="end">3.5</text>
<text x="190.3" y="1116.3" text-anchor="end">4</text>
<text x="190.3" y="883.3" text-anchor="end">4.5</text>
<text x="190.3" y="649.3" text-anchor="end">5</text>
<text x="190.3" y="416.3" text-anchor="end">5.5</text>
<text x="190.3" y="183.3" text-anchor="end">6</text>
</svg></body></html>
